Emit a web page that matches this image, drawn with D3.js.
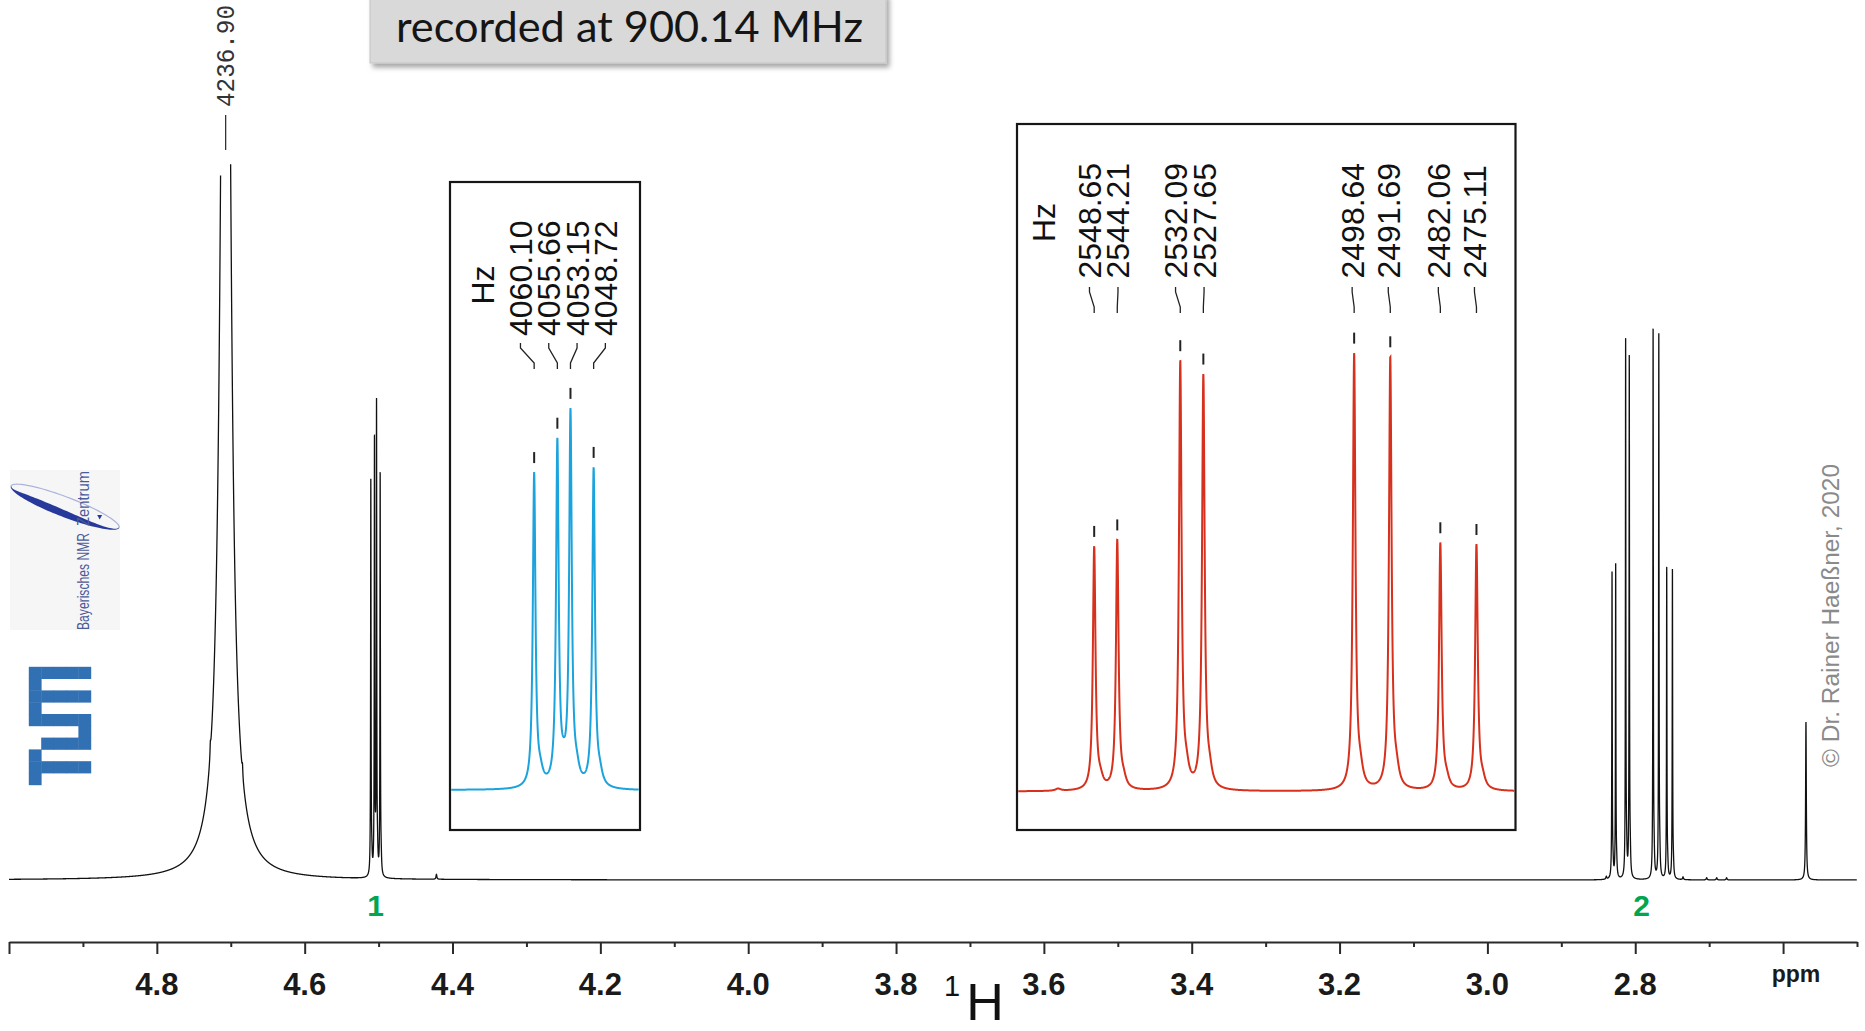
<!DOCTYPE html>
<html><head><meta charset="utf-8">
<script src="https://cdn.jsdelivr.net/npm/d3@7"></script>
<style>html,body{margin:0;padding:0;background:#fff;} svg{display:block;}</style>
</head><body>
<svg id="c" width="1865" height="1031"></svg>
<script>
// ---------------- data ----------------
const spectrometerMHz = 900.14;
const titleText = "recorded at 900.14 MHz";
const copyrightText = "\u00A9 Dr. Rainer Hae\u00DFner, 2020";
const axisDomainPpm = [5.0, 2.5];
const majorTicks = [5.0, 4.8, 4.6, 4.4, 4.2, 4.0, 3.8, 3.6, 3.4, 3.2, 3.0, 2.8, 2.6];
const minorTicks = [4.9, 4.7, 4.5, 4.3, 4.1, 3.9, 3.7, 3.5, 3.3, 3.1, 2.9, 2.7, 2.5];
const tickLabelValues = [4.8, 4.6, 4.4, 4.2, 4.0, 3.8, 3.6, 3.4, 3.2, 3.0, 2.8];
const tickLabels = ["4.8", "4.6", "4.4", "4.2", "4.0", "3.8", "3.6", "3.4", "3.2", "3.0", "2.8"];
const unitLabel = "ppm";
const nucleusMass = "1";
const nucleusSymbol = "H";

// multiplet 1 (blue inset) — line positions (Hz), relative amplitudes
const multiplet1Hz = [4060.10, 4055.66, 4053.15, 4048.72];
const multiplet1Int = [71.5, 78.1, 84.6, 72.6];
const multiplet1Label = "1";
// multiplet 2 (red inset)
const multiplet2Hz = [2548.65, 2544.21, 2532.09, 2527.65, 2498.64, 2491.69, 2482.06, 2475.11];
const multiplet2Int = [55.3, 56.7, 97.2, 94.1, 99.2, 98.3, 56.2, 55.9];
const multiplet2Label = "2";
const multipletLineWidthHz = 0.3;
// broad solvent line (labelled)
const solventHz = [4236.90];
const solventInt = [289];
const solventWidthHz = [5.5];
// other small lines
const minorHz = [4255.5, 4216.4, 3980.2, 2312.5, 2555.6, 2462.2, 2433.4, 2421.2, 2409.2];
const minorInt = [2.0, 1.8, 0.9, 28.7, 0.5, 0.5, 0.4, 0.4, 0.4];
const minorWidthHz = [0.5, 0.5, 0.6, 0.5, 0.6, 0.6, 0.6, 0.6, 0.6];
// inset windows (Hz)
const inset1HzRange = [4076.2, 4039.85];
const inset2HzRange = [2563.5, 2467.6];

// ---------------- build line list ----------------
const peaks = [];
function addMultiplet(hzs, ints) {
  hzs.forEach((hz, i) => {
    peaks.push({hz, h: ints[i], w: multipletLineWidthHz});
    peaks.push({hz: hz - 1.2, h: ints[i] * 0.035, w: 0.6}); // lineshape shoulder
  });
}
addMultiplet(multiplet1Hz, multiplet1Int);
addMultiplet(multiplet2Hz, multiplet2Int);
solventHz.forEach((hz, i) => peaks.push({hz, h: solventInt[i], w: solventWidthHz[i]}));
minorHz.forEach((hz, i) => peaks.push({hz, h: minorInt[i], w: minorWidthHz[i]}));
function intensity(hz) {
  let s = 0;
  for (const p of peaks) { const d = (hz - p.hz) / p.w; s += p.h / (1 + d * d); }
  return s;
}

// ---------------- drawing ----------------
const svg = d3.select("#c");
const F = "'Liberation Sans', Arial, sans-serif";

const x = d3.scaleLinear().domain(axisDomainPpm).range([9, 1857]);
const y = d3.scaleLinear().domain([0, 100]).range([880, 329.5]);

// logos ---------------------------------------------------
const logo = svg.append("g");
logo.append("rect").attr("x", 10).attr("y", 470).attr("width", 110).attr("height", 160).attr("fill", "#f6f6f7");
(function(){
  const cx = 65, cy = 507, rx = 58, ry = 10, rot = 21 * Math.PI / 180;
  const P = (u, v) => [cx + u * Math.cos(rot) - v * Math.sin(rot), cy + u * Math.sin(rot) + v * Math.cos(rot)];
  const outer = d3.range(0, 181, 3).map(a => { const t = a * Math.PI / 180; return P(rx * Math.cos(t), ry * Math.sin(t)); });
  const inner = d3.range(180, -1, -3).map(a => { const t = a * Math.PI / 180; const th = 0.95 * Math.pow(Math.sin(t), 0.7) * (0.45 + 0.55 * (1 - Math.cos(t)) / 2); return P(rx * Math.cos(t) * 0.985, ry * Math.sin(t) * (1 - th)); });
  logo.append("path").attr("d", d3.line()(outer.concat(inner)) + "Z").attr("fill", "#27399a");
  const top = d3.range(180, 361, 4).map(a => { const t = a * Math.PI / 180; return P(rx * Math.cos(t), ry * Math.sin(t)); });
  logo.append("path").attr("d", d3.line()(top)).attr("fill", "none").attr("stroke", "#aab3dc").attr("stroke-width", 1.2);
  const tip = P(36, -3);
  logo.append("path").attr("d", `M${tip[0]-2.5},${tip[1]-2}L${tip[0]+2.5},${tip[1]-2}L${tip[0]},${tip[1]+2.5}Z`).attr("fill", "#27399a");
})();
logo.append("text").attr("transform", "translate(88.5,630) rotate(-90)").attr("font-family", F)
  .attr("font-size", 16).attr("fill", "#4b5a98").attr("textLength", 97).attr("lengthAdjust", "spacingAndGlyphs").text("Bayerisches NMR");
logo.append("text").attr("transform", "translate(88.5,526) rotate(-90)").attr("font-family", F)
  .attr("font-size", 16).attr("fill", "#4b5a98").attr("textLength", 55).attr("lengthAdjust", "spacingAndGlyphs").text("Zentrum");
// TUM logo (rotated)
const tumRows = ["11111", "10000", "11111", "10000", "11111", "00001", "01111", "10000", "11111", "10000"];
const tx0 = 29, ty0 = 667, cw = 12.4, ch = 11.8;
tumRows.forEach((row, r) => row.split("").forEach((c, k) => {
  if (c === "1") logo.append("rect").attr("x", tx0 + k * cw - 0.2).attr("y", ty0 + r * ch - 0.2)
    .attr("width", cw + 0.4).attr("height", ch + 0.4).attr("fill", "#3070b3");
}));

// title box ----------------------------------------------
const defs = svg.append("defs");
const filt = defs.append("filter").attr("id", "sh").attr("x", "-10%").attr("y", "-20%").attr("width", "130%").attr("height", "160%");
filt.append("feDropShadow").attr("dx", 3).attr("dy", 4).attr("stdDeviation", 2.5).attr("flood-color", "#000").attr("flood-opacity", 0.35);
svg.append("rect").attr("x", 370).attr("y", -6).attr("width", 516).attr("height", 69)
  .attr("fill", "#d9d9d9").attr("stroke", "#c4c4c4").attr("stroke-width", 1).attr("filter", "url(#sh)");
svg.append("text").attr("x", 629.5).attr("y", 41.5).attr("text-anchor", "middle")
  .attr("font-family", "Lato, 'Open Sans', sans-serif").attr("font-size", 42).attr("fill", "#151515")
  .attr("textLength", 467).attr("lengthAdjust", "spacingAndGlyphs").text(titleText);

// main spectrum ------------------------------------------
function samplePositions(scale, x0, x1, step) {
  const s = [];
  for (let px = x0; px <= x1; px += step) s.push(px);
  peaks.forEach(p => {
    const c = scale(p.hz);
    const wpx = Math.abs(scale(p.hz + p.w) - c);
    const half = Math.max(3, 10 * wpx), st = Math.min(0.02, wpx / 10);
    if (c + half < x0 || c - half > x1) return;
    for (let v = c - half; v <= c + half; v += st) s.push(v);
  });
  return Array.from(new Set(s.filter(v => v >= x0 && v <= x1).map(v => Math.round(v * 1000) / 1000))).sort((a, b) => a - b);
}
const xHz = hz => x(hz / spectrometerMHz);
const mainPts = samplePositions(xHz, 9, 1857, 0.2).map(px => [px, y(intensity(x.invert(px) * spectrometerMHz))]);
const solventX = xHz(solventHz[0]);
svg.append("path").attr("d", d3.line().defined(d => d[1] >= (d[0] < solventX ? 175 : 164))(mainPts))
  .attr("fill", "none").attr("stroke", "#111").attr("stroke-width", 1.3);

// solvent label
solventHz.forEach(hz => {
  const px = xHz(hz);
  svg.append("line").attr("x1", px).attr("x2", px).attr("y1", 115).attr("y2", 150).attr("stroke", "#333").attr("stroke-width", 1.3);
  svg.append("text").attr("transform", `translate(${px + 8},107) rotate(-90)`).attr("font-family", "'Liberation Mono', monospace")
    .attr("font-size", 25).attr("fill", "#333").attr("textLength", 102).attr("lengthAdjust", "spacingAndGlyphs").text(d3.format(".2f")(hz));
});

// multiplet numbers
[[multiplet1Hz, multiplet1Label], [multiplet2Hz, multiplet2Label]].forEach(([hzs, lab]) => {
  svg.append("text").attr("x", xHz(d3.mean(hzs))).attr("y", 916).attr("text-anchor", "middle")
    .attr("font-family", F).attr("font-weight", "bold").attr("font-size", 30).attr("fill", "#00a651").text(lab);
});

// axis ----------------------------------------------------
svg.append("g").attr("transform", "translate(0,942)")
  .call(d3.axisBottom(x).tickValues(majorTicks).tickSize(12).tickSizeOuter(0).tickFormat(""));
const axm = svg.append("g").attr("transform", "translate(0,942)")
  .call(d3.axisBottom(x).tickValues(minorTicks).tickSize(5).tickSizeOuter(0).tickFormat(""));
axm.select(".domain").remove();
svg.selectAll(".domain, .tick line").attr("stroke", "#2a2a2a").attr("stroke-width", 2);
tickLabelValues.forEach((v, i) => {
  svg.append("text").attr("x", x(v)).attr("y", 995).attr("text-anchor", "middle")
    .attr("font-family", F).attr("font-weight", "bold").attr("font-size", 31).attr("fill", "#1a1a1a").text(tickLabels[i]);
});
svg.append("text").attr("x", 1796).attr("y", 982).attr("text-anchor", "middle").attr("font-family", F)
  .attr("font-weight", "bold").attr("font-size", 23).attr("fill", "#1a1a1a").text(unitLabel);
svg.append("text").attr("x", 952).attr("y", 996).attr("text-anchor", "middle").attr("font-family", F)
  .attr("font-size", 29).attr("fill", "#111").text(nucleusMass);
svg.append("text").attr("x", 985).attr("y", 1020).attr("text-anchor", "middle").attr("font-family", F)
  .attr("font-size", 52).attr("fill", "#111").text(nucleusSymbol);

// copyright
svg.append("text").attr("transform", "translate(1839,615.5) rotate(-90)").attr("text-anchor", "middle")
  .attr("font-family", F).attr("font-size", 23).attr("fill", "#8a8a8a").attr("textLength", 303)
  .attr("lengthAdjust", "spacingAndGlyphs").text(copyrightText);

// insets -------------------------------------------------
function spreadLabels(xs, minGap, shift) {
  let groups = xs.map(v => ({c: v, n: 1, items: [v]}));
  const pos = g => d3.range(g.n).map(k => g.c + (k - (g.n - 1) / 2) * minGap);
  let changed = true;
  while (changed) {
    changed = false;
    for (let i = 0; i < groups.length - 1; i++) {
      const a = groups[i], b = groups[i + 1];
      const pa = pos(a), pb = pos(b);
      if (pb[0] - pa[pa.length - 1] < minGap - 1e-6) {
        const items = a.items.concat(b.items);
        groups.splice(i, 2, {c: d3.mean(items), n: items.length, items});
        changed = true; break;
      }
    }
  }
  return groups.flatMap(g => pos(g)).map(v => v + shift);
}

function drawInset(o) {
  const g = svg.append("g");
  g.append("rect").attr("x", o.x0).attr("y", o.y0).attr("width", o.x1 - o.x0).attr("height", o.y1 - o.y0)
    .attr("fill", "#fff").attr("stroke", "#161616").attr("stroke-width", 2.2);
  const xi = d3.scaleLinear().domain(o.hzRange).range([o.x0, o.x1]);
  const yi = d3.scaleLinear().domain([0, 100]).range([o.base, o.base - 550.5 * 0.796]);
  const pts = d3.range(o.x0 + 1.2, o.x1 - 1.2, 0.15).map(px => [px, yi(intensity(xi.invert(px)))]);
  g.append("path").attr("d", d3.line()(pts)).attr("fill", "none").attr("stroke", o.color).attr("stroke-width", 2);
  const pxs = o.hz.map(h => xi(h));
  const lxs = spreadLabels(pxs, o.gap, o.shift);
  o.hz.forEach((hz, i) => {
    const px = pxs[i], top = yi(intensity(hz));
    g.append("line").attr("x1", px).attr("x2", px).attr("y1", top - 20).attr("y2", top - 9)
      .attr("stroke", "#222").attr("stroke-width", 2);
    const lx = lxs[i];
    g.append("path").attr("d", `M${lx},${o.ly0}L${lx},${o.ly0 + 5}L${px},${o.ly1 - 6}L${px},${o.ly1}`)
      .attr("fill", "none").attr("stroke", "#222").attr("stroke-width", 1.3);
    g.append("text").attr("transform", `translate(${lx + 11.5},${o.textBottom}) rotate(-90)`)
      .attr("font-family", F).attr("font-size", 32).attr("fill", "#111").text(d3.format(".2f")(hz));
  });
  g.append("text").attr("transform", `translate(${o.hzX + 11.5},${o.hzY}) rotate(-90)`).attr("text-anchor", "middle")
    .attr("font-family", F).attr("font-size", 32).attr("fill", "#111").text("Hz");
}
drawInset({x0: 450, x1: 640, y0: 182, y1: 830, base: 791.5, hzRange: inset1HzRange, hz: multiplet1Hz,
  color: "#1ba3dd", gap: 28.3, shift: -1, ly0: 343, ly1: 369, textBottom: 336, hzX: 482, hzY: 285});
drawInset({x0: 1017, x1: 1515.5, y0: 124, y1: 830, base: 791.5, hzRange: inset2HzRange, hz: multiplet2Hz,
  color: "#d7301c", gap: 28.5, shift: -2, ly0: 287, ly1: 313, textBottom: 278.5, hzX: 1043.3, hzY: 222.5});
</script>
</body></html>
